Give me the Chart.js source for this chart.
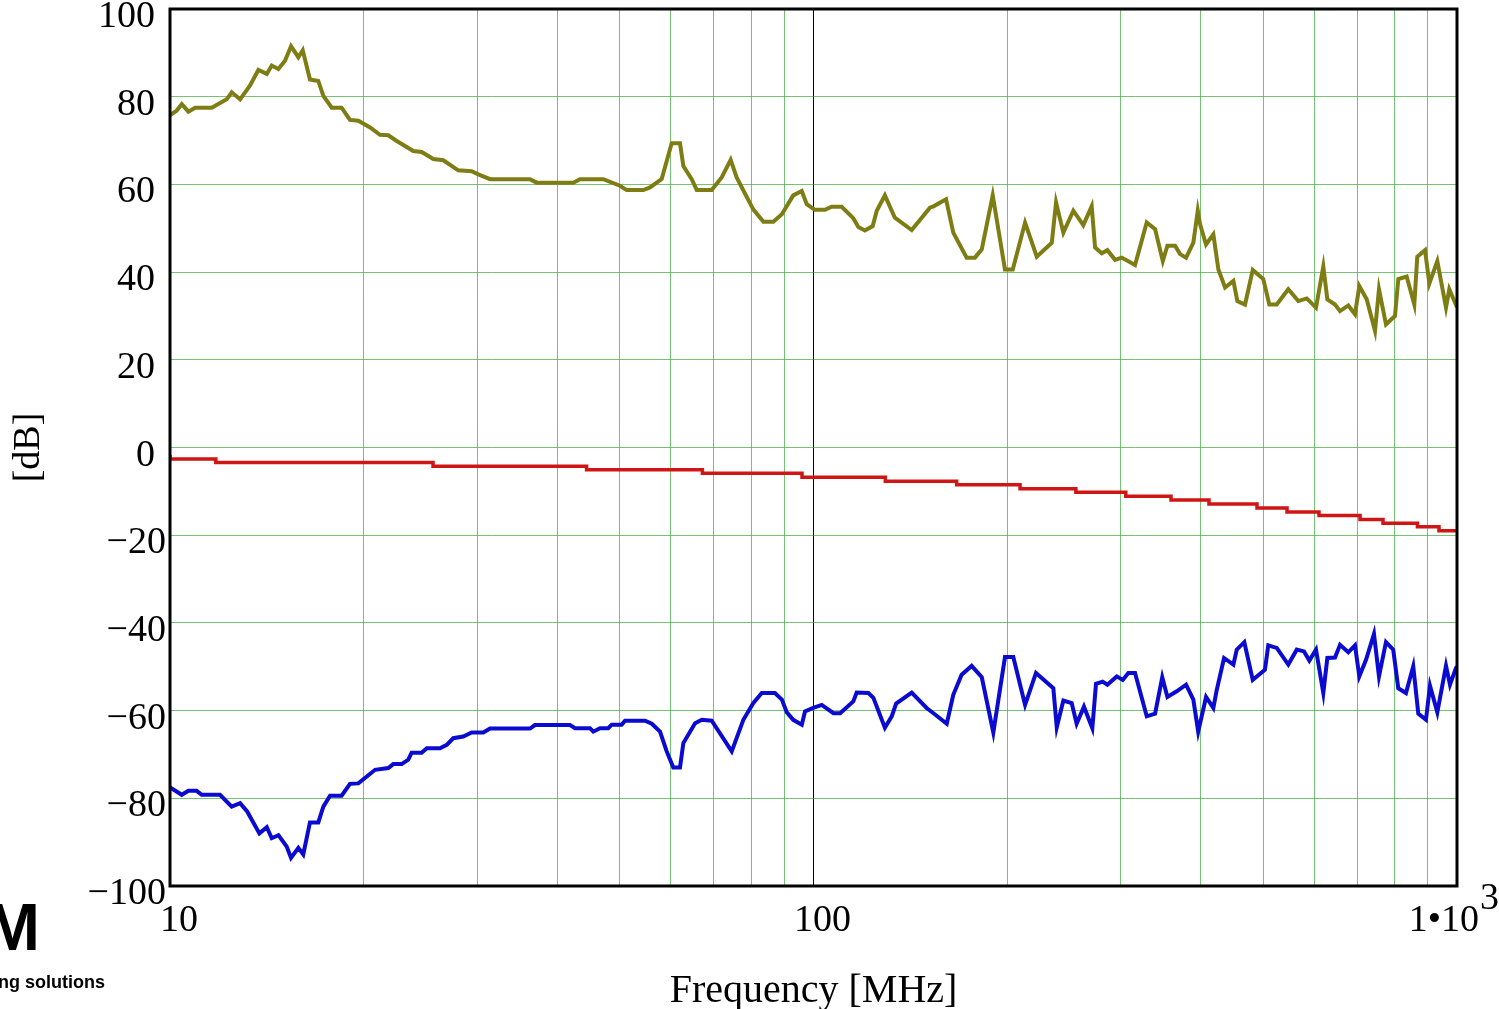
<!DOCTYPE html>
<html>
<head>
<meta charset="utf-8">
<script src="https://cdn.jsdelivr.net/npm/chart.js@4.4.1/dist/chart.umd.min.js"></script>
<style>
  html, body { margin: 0; padding: 0; background: #fff; }
  canvas { display: block; }
</style>
</head>
<body>
<canvas id="grafico" width="1499" height="1009"></canvas>
<script>
// upper trace (olive)
const oliveFreq = [10, 10.24, 10.43, 10.68, 10.94, 11.61, 12.25, 12.47, 12.85, 13.31, 13.72, 14.14, 14.39, 14.74, 15.09, 15.42, 15.83, 16.08, 16.5, 17.0,
  17.31, 17.84, 18.48, 19.04, 19.62, 20.46, 21.2, 21.84, 22.51, 23.88, 24.61, 25.66, 26.59, 28.05, 29.43, 30.14, 31.43, 36.26, 37.14, 42.34,
  43.36, 47.14, 50.03, 51.25, 54.39, 55.71, 57.06, 58.09, 60.2, 62.02, 62.77, 64.68, 65.85, 69.47, 71.99, 74.35, 75.96, 80.6, 83.6, 86.6,
  89.3, 93.0, 95.9, 97.6, 100.5, 104.2, 106.7, 110.6, 115.3, 117.4, 120.2, 123.6, 125.4, 129.1, 133.8, 142.1, 151.7, 153.6, 160.7, 164.9,
  173.0, 178.2, 182.6, 189.9, 198.4, 204.0, 213.2, 222.3, 234.6, 238.2, 244.5, 253.4, 262.6, 270.6, 273.9, 280.5, 286.2, 294.2, 301.3, 316.0,
  329.5, 339.5, 349.0, 354.8, 364.7, 371.2, 379.3, 389.3, 395.5, 398.8, 407.4, 418.2, 425.8, 436.1, 449.3, 455.7, 468.4, 481.5, 500.0, 510.9,
  524.6, 546.8, 566.8, 584.1, 603.8, 619.8, 628.8, 646.3, 658.0, 677.8, 694.2, 705.0, 723.9, 745.7, 756.4, 775.6, 801.0, 810.5, 835.2, 858.3,
  867.5, 891.9, 905.8, 932.0, 961.4, 972.8, 993.0, 1000];
const oliveDb = [75.8, 76.8, 78.3, 76.6, 77.5, 77.5, 79.4, 81.0, 79.4, 82.5, 86.1, 85.2, 87.1, 86.3, 88.2, 91.5, 89.0, 90.6, 83.9, 83.6,
  80.2, 77.5, 77.5, 74.7, 74.5, 73.0, 71.3, 71.2, 69.9, 67.6, 67.4, 65.8, 65.5, 63.2, 63.0, 62.3, 61.2, 61.2, 60.4, 60.4,
  61.2, 61.2, 59.7, 58.7, 58.7, 59.3, 60.4, 61.2, 69.4, 69.4, 64.2, 61.2, 58.7, 58.7, 61.6, 65.6, 61.6, 54.3, 51.5, 51.5,
  53.2, 57.5, 58.5, 55.5, 54.2, 54.2, 54.9, 54.9, 52.3, 50.3, 49.5, 50.5, 54.0, 57.5, 52.4, 49.6, 54.7, 55.0, 56.6, 49.0,
  43.3, 43.3, 45.2, 57.5, 40.6, 40.6, 51.3, 43.5, 46.7, 55.9, 49.0, 54.0, 50.7, 55.0, 45.6, 44.3, 45.0, 42.8, 43.3, 41.6,
  51.3, 49.8, 42.5, 46.0, 46.0, 44.1, 43.3, 46.7, 54.0, 50.9, 46.3, 48.6, 40.6, 36.5, 38.0, 33.4, 32.6, 40.5, 38.4, 32.6,
  32.6, 36.1, 33.4, 34.0, 31.9, 41.3, 33.8, 32.6, 31.1, 32.4, 30.4, 36.8, 33.8, 26.6, 36.1, 28.1, 30.0, 38.4, 39.0, 32.6,
  43.5, 45.0, 37.4, 42.5, 31.9, 36.1, 33.0, 32.0];

// middle trace (red), stepped
const redFreq = [10, 11.78, 25.63, 44.4, 67.2, 95.97, 129.3, 166.9, 209.4, 255.7, 305.7, 359.4, 411.7, 488.9, 544.3, 610.3, 706.9, 767.4, 868.1, 937.6, 1000];
const redDb = [-1.7, -2.6, -3.4, -4.3, -5.1, -5.9, -6.8, -7.7, -8.5, -9.4, -10.2, -11.1, -12.0, -12.9, -13.8, -14.7, -15.5, -16.4, -17.3, -18.1, -19.0];

// lower trace (blue)
const blueFreq = [10, 10.43, 10.68, 11.0, 11.2, 11.96, 12.47, 12.85, 13.18, 13.77, 14.14, 14.39, 14.74, 15.18, 15.42, 15.83, 16.11, 16.5, 17.0, 17.31,
  17.73, 18.48, 19.04, 19.62, 20.83, 21.84, 22.23, 22.91, 23.46, 23.74, 24.61, 25.06, 26.28, 26.92, 27.55, 28.56, 29.43, 30.68, 31.43, 36.26,
  36.91, 41.84, 42.6, 44.94, 45.48, 46.58, 47.98, 48.57, 50.34, 50.95, 54.73, 56.07, 57.74, 59.14, 60.55, 62.02, 62.77, 65.46, 67.05, 69.47,
  74.63, 77.8, 80.6, 83.1, 87.1, 89.3, 90.9, 93.0, 95.9, 97.0, 99.9, 103.0, 107.4, 110.0, 115.3, 116.7, 121.7, 123.9, 129.1, 132.3,
  134.4, 142.1, 149.9, 153.6, 161.1, 164.9, 169.9, 176.1, 182.6, 190.3, 198.4, 204.4, 213.2, 221.7, 235.9, 238.8, 244.5, 251.9, 256.4, 263.2,
  271.2, 274.8, 281.4, 286.2, 296.0, 302.4, 308.5, 316.0, 329.5, 339.5, 348.3, 354.8, 366.8, 379.3, 389.3, 396.1, 407.4, 418.2, 423.3, 434.5,
  449.3, 454.7, 467.2, 481.5, 503.0, 509.0, 524.6, 546.8, 563.6, 578.4, 589.6, 603.8, 619.8, 628.8, 646.3, 658.0, 677.8, 694.2, 705.0, 722.1,
  743.0, 756.4, 775.6, 796.0, 810.5, 833.1, 855.1, 870.7, 895.0, 907.8, 932.0, 961.4, 975.2, 996.3, 1000];
const blueDb = [-77.5, -79.2, -78.3, -78.3, -79.2, -79.2, -81.9, -81.1, -83.0, -88.0, -86.6, -89.1, -88.4, -91.0, -93.6, -91.3, -92.8, -85.5, -85.5, -81.9,
  -79.4, -79.4, -76.7, -76.6, -73.5, -73.1, -72.2, -72.2, -71.2, -69.6, -69.6, -68.6, -68.6, -67.8, -66.3, -65.9, -65.0, -65.0, -64.1, -64.1,
  -63.3, -63.3, -64.0, -64.0, -64.8, -64.0, -64.0, -63.2, -63.2, -62.3, -62.3, -63.0, -64.8, -69.3, -73.0, -73.0, -67.4, -62.9, -62.1, -62.3,
  -69.3, -62.1, -58.3, -56.0, -56.0, -57.5, -60.4, -62.1, -63.2, -60.2, -59.4, -58.7, -60.6, -60.6, -57.9, -55.9, -56.0, -57.1, -63.9, -61.3,
  -58.4, -55.9, -59.4, -60.6, -63.0, -56.4, -51.8, -49.8, -52.4, -65.0, -47.8, -47.8, -58.7, -51.4, -54.9, -63.8, -57.7, -58.3, -63.0, -59.1,
  -64.0, -53.9, -53.4, -54.1, -52.2, -53.0, -51.4, -51.4, -61.3, -60.7, -52.4, -56.9, -55.6, -54.1, -57.5, -64.8, -56.9, -59.4, -55.3, -48.0,
  -49.5, -46.1, -44.4, -53.0, -50.7, -45.1, -45.7, -49.5, -46.1, -46.5, -48.6, -46.1, -56.0, -48.0, -47.9, -45.0, -46.7, -45.1, -52.2, -48.4,
  -42.5, -52.2, -44.4, -46.1, -54.9, -56.0, -49.9, -60.7, -62.1, -54.3, -60.4, -49.8, -54.1, -50.3, -50.0];

// axes
const xGridFreqs = [10, 20, 30, 40, 50, 60, 70, 80, 90, 100, 200, 300, 400, 500, 600, 700, 800, 900, 1000];
const xTickVals = [10, 100, 1000];
const xTickText = ['10', '100', '1\u202210'];
const yTickVals = [100, 80, 60, 40, 20, 0, -20, -40, -60, -80, -100];

const toPoints = (xs, ys) => xs.map((x, i) => ({ x: x, y: ys[i] }));

const gridGreen = 'rgba(70, 175, 70, 0.75)';
const serif = 'Liberation Serif';

// tick labels (Mathcad style offsets), frame and the cropped logo
const frameAndLabels = {
  id: 'frameAndLabels',
  afterDraw(chart) {
    const ctx = chart.ctx;
    const a = chart.chartArea;
    const xs = chart.scales.x;
    const ys = chart.scales.y;
    ctx.save();
    ctx.strokeStyle = '#000';
    ctx.lineWidth = 3;
    ctx.strokeRect(a.left, a.top, a.right - a.left, a.bottom - a.top);

    ctx.fillStyle = '#000';
    ctx.textBaseline = 'alphabetic';
    ctx.font = '38px "' + serif + '"';
    yTickVals.forEach(v => {
      const py = ys.getPixelForValue(v);
      ctx.textAlign = 'right';
      if (v < 0) {
        ctx.fillText('\u2212' + Math.abs(v), a.left - 4, py + 18);
      } else {
        ctx.fillText(String(v), a.left - 15, py + 18);
      }
    });
    xTickVals.forEach((v, i) => {
      const px = xs.getPixelForValue(v);
      if (i === xTickVals.length - 1) {
        ctx.textAlign = 'right';
        ctx.fillText(xTickText[i], px + 22, 931);
        ctx.textAlign = 'left';
        ctx.fillText('3', px + 23, 909);
      } else {
        ctx.textAlign = 'center';
        ctx.fillText(xTickText[i], px + 9, 931);
      }
    });

    ctx.textAlign = 'right';
    ctx.font = 'bold 66px "Liberation Sans"';
    ctx.fillText('M', 40, 950);
    ctx.font = 'bold 18px "Liberation Sans"';
    ctx.fillText('ng solutions', 105, 988);
    ctx.restore();
  }
};

const Grafico = document.getElementById('grafico');
const myChart = new Chart(Grafico, {
  type: 'line',
  data: {
    datasets: [
      { label: 'upper', data: toPoints(oliveFreq, oliveDb), borderColor: '#7d7d14', borderWidth: 4 },
      { label: 'middle', data: toPoints(redFreq, redDb), borderColor: '#d01515', borderWidth: 3.5, stepped: 'after' },
      { label: 'lower', data: toPoints(blueFreq, blueDb), borderColor: '#0a0ad0', borderWidth: 4 }
    ]
  },
  options: {
    responsive: false,
    animation: false,
    layout: { padding: { top: 9, right: 42, left: 0, bottom: 0 } },
    elements: { point: { radius: 0 }, line: { tension: 0 } },
    plugins: { legend: { display: false }, tooltip: { enabled: false } },
    scales: {
      x: {
        type: 'logarithmic',
        min: 10,
        max: 1000,
        afterBuildTicks: (s) => { s.ticks = xGridFreqs.map(v => ({ value: v })); },
        afterFit: (s) => { s.height = 123; s.paddingLeft = 0; s.paddingRight = 0; },
        border: { display: false },
        grid: {
          drawTicks: false,
          lineWidth: 1,
          color: (c) => (c.tick && c.tick.value === 100 ? '#000' : gridGreen)
        },
        ticks: { display: false },
        title: {
          display: true,
          text: 'Frequency [MHz]',
          color: '#000',
          font: { family: serif, size: 40, lineHeight: 0.9 },
          padding: { top: 0, bottom: 0 }
        }
      },
      y: {
        min: -100,
        max: 100,
        afterBuildTicks: (s) => { s.ticks = yTickVals.map(v => ({ value: v })); },
        afterFit: (s) => { s.width = 170; s.paddingTop = 0; s.paddingBottom = 0; },
        border: { display: false },
        grid: { drawTicks: false, lineWidth: 1, color: gridGreen },
        ticks: { display: false },
        title: {
          display: true,
          text: '[dB]',
          color: '#000',
          font: { family: serif, size: 38 },
          padding: { top: 6, bottom: 0 }
        }
      }
    }
  },
  plugins: [frameAndLabels]
});
</script>
</body>
</html>
